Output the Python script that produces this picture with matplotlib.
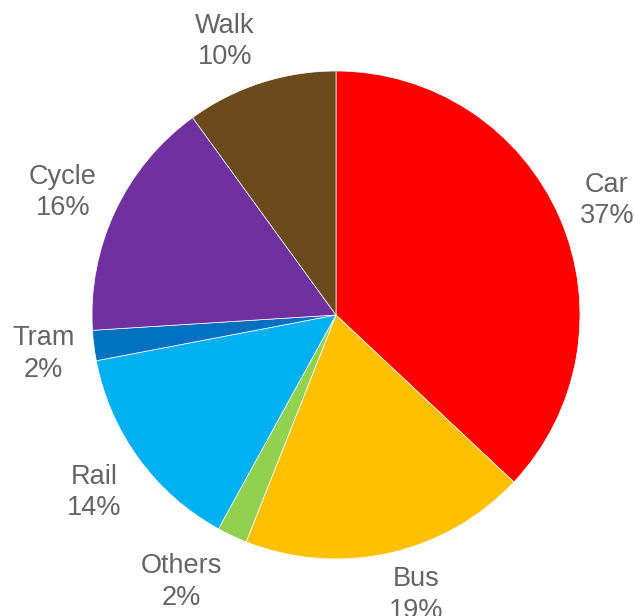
import matplotlib
matplotlib.use("Agg")
import matplotlib.pyplot as plt
import numpy as np

categories = ["Car", "Bus", "Others", "Rail", "Tram", "Cycle", "Walk"]
values = [37, 19, 2, 14, 2, 16, 10]
colors = ["#FF0000", "#FFC000", "#92D050", "#00B0F0", "#0070C0", "#7030A0", "#6B4A1B"]
# label nudges in pixels (dx right, dy up)
label_nudge = [(0, -3), (16, 8), (-29, 0), (-3, -4), (0, -2), (-6, -3), (-20, -7)]

plt.rcParams['font.family'] = ['Liberation Sans', 'DejaVu Sans']

fig = plt.figure(figsize=(6.34, 6.16), dpi=100)
ax = fig.add_axes([0, 0, 1, 1])

total = sum(values)
labels = [f"{c}\n{round(v / total * 100)}%" for c, v in zip(categories, values)]

wedges, texts = ax.pie(values, colors=colors, startangle=90, counterclock=False,
                       radius=244, center=(336, 301), labels=labels, labeldistance=1.21,
                       wedgeprops=dict(edgecolor='white', linewidth=0.5),
                       textprops=dict(color='#646464', fontsize=19.5, linespacing=1.27),
                       frame=True)
for t, (dx, dy) in zip(texts, label_nudge):
    x, y = t.get_position()
    t.set_position((x + dx, y + dy))
    t.set_horizontalalignment('center')
    t.set_verticalalignment('center')
ax.set_xlim(0, 634)
ax.set_ylim(0, 616)
ax.set_aspect('equal')
ax.axis('off')

fig.savefig("out.png", dpi=100)
